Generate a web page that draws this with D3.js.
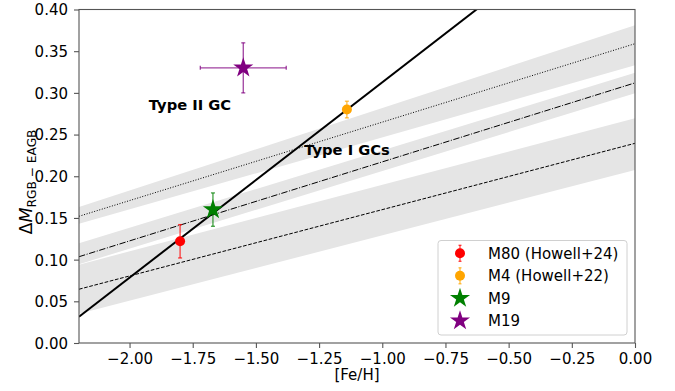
<!DOCTYPE html>
<html>
<head>
<meta charset="utf-8">
<script src="https://cdn.jsdelivr.net/npm/d3@7"></script>
<style>
  html, body { margin: 0; padding: 0; background: #fff; }
  svg { display: block; font-family: "DejaVu Sans", sans-serif; }
</style>
</head>
<body>
<svg id="chart" width="675" height="391"></svg>
<script>
// Metallicity range covered by the model relations
const fehEnds = [-2.2, 0.0];

// Model relations (value at each end of fehEnds) with their uncertainty bands
const dottedMid = [0.152, 0.359];
const dottedLo  = [0.143, 0.333];
const dottedHi  = [0.163, 0.381];

const dashDotMid = [0.1035, 0.312];
const dashDotLo  = [0.0945, 0.2995];
const dashDotHi  = [0.1195, 0.324];

const dashedMid = [0.0645, 0.2395];
const dashedLo  = [0.035, 0.2075];
const dashedHi  = [0.094, 0.2695];

// Steep solid relation
const solidY = [0.0315, 0.547];

// Cluster measurements
const clusterNames = ["M80 (Howell+24)", "M4 (Howell+22)", "M9", "M19"];
const clusterFeH   = [-1.80, -1.14, -1.67, -1.55];
const clusterDM    = [0.122, 0.280, 0.160, 0.330];
const clusterDMErr = [0.020, 0.010, 0.020, 0.030];
const clusterFeHErr = [0, 0, 0, 0.17];
const clusterColor = ["#ff0000", "#ffa500", "#008000", "#800080"];
const clusterShape = ["circle", "circle", "star", "star"];

const xTicks = [-2.0, -1.75, -1.5, -1.25, -1.0, -0.75, -0.5, -0.25, 0.0];
const yTicks = [0.0, 0.05, 0.10, 0.15, 0.20, 0.25, 0.30, 0.35, 0.40];

const margin = { left: 79, right: 40, top: 9.5, bottom: 48 };
const W = 675, H = 391;
const pw = W - margin.left - margin.right;
const ph = H - margin.top - margin.bottom;
const fs = 15;

const svg = d3.select("#chart");
const x = d3.scaleLinear().domain([-2.2, 0.0]).range([margin.left, margin.left + pw]);
const y = d3.scaleLinear().domain([0, 0.4]).range([margin.top + ph, margin.top]);

svg.append("defs").append("clipPath").attr("id", "plotclip")
  .append("rect").attr("x", margin.left).attr("y", margin.top).attr("width", pw).attr("height", ph);

const plot = svg.append("g").attr("clip-path", "url(#plotclip)");

const band = d3.area().x(d => x(d.x)).y0(d => y(d.lo)).y1(d => y(d.hi));
const line = d3.line().x(d => x(d.x)).y(d => y(d.y));

const bands = [
  [dashedLo, dashedHi],
  [dashDotLo, dashDotHi],
  [dottedLo, dottedHi]
];
bands.forEach(([lo, hi]) => {
  plot.append("path")
    .datum(fehEnds.map((f, i) => ({ x: f, lo: lo[i], hi: hi[i] })))
    .attr("d", band)
    .attr("fill", "#e5e5e5");
});

const relations = [
  { vals: dottedMid, dash: "1,1.65" },
  { vals: dashDotMid, dash: "6.4,1.6,1,1.6" },
  { vals: dashedMid, dash: "3.7,1.6" }
];
relations.forEach(r => {
  plot.append("path")
    .datum(fehEnds.map((f, i) => ({ x: f, y: r.vals[i] })))
    .attr("d", line)
    .attr("fill", "none")
    .attr("stroke", "#000")
    .attr("stroke-width", 1)
    .attr("stroke-dasharray", r.dash);
});

plot.append("path")
  .datum(fehEnds.map((f, i) => ({ x: f, y: solidY[i] })))
  .attr("d", line)
  .attr("fill", "none")
  .attr("stroke", "#000")
  .attr("stroke-width", 2);

// Region labels
svg.append("text").attr("x", 190).attr("y", 110).attr("text-anchor", "middle")
  .attr("font-size", 14.7).attr("font-weight", "bold").text("Type II GC");
svg.append("text").attr("x", 347).attr("y", 155.3).attr("text-anchor", "middle")
  .attr("font-size", 14.7).attr("font-weight", "bold").text("Type I GCs");

const starSym = d3.symbol().type(d3.symbolStar).size(125);

function drawMarker(g, cx, cy, shape, color) {
  if (shape === "circle") {
    g.append("circle").attr("cx", cx).attr("cy", cy).attr("r", 5).attr("fill", color);
  } else {
    g.append("path").attr("d", starSym()).attr("transform", `translate(${cx},${cy})`)
      .attr("fill", color);
  }
}

function errBar(g, x1, y1, x2, y2, color, cap, vertical) {
  g.append("line").attr("x1", x1).attr("y1", y1).attr("x2", x2).attr("y2", y2)
    .attr("stroke", color).attr("stroke-width", 1.3).attr("stroke-opacity", 0.75);
  [[x1, y1], [x2, y2]].forEach(([px, py]) => {
    if (vertical) {
      g.append("line").attr("x1", px - cap).attr("x2", px + cap).attr("y1", py).attr("y2", py)
        .attr("stroke", color).attr("stroke-width", 1.3).attr("stroke-opacity", 0.75);
    } else {
      g.append("line").attr("x1", px).attr("x2", px).attr("y1", py - cap).attr("y2", py + cap)
        .attr("stroke", color).attr("stroke-width", 1.3).attr("stroke-opacity", 0.75);
    }
  });
}

const pts = svg.append("g");
clusterNames.forEach((n, i) => {
  const cx = x(clusterFeH[i]), cy = y(clusterDM[i]);
  const col = clusterColor[i];
  errBar(pts, cx, y(clusterDM[i] - clusterDMErr[i]), cx, y(clusterDM[i] + clusterDMErr[i]), col, 2, true);
  if (clusterFeHErr[i] > 0) {
    errBar(pts, x(clusterFeH[i] - clusterFeHErr[i]), cy, x(clusterFeH[i] + clusterFeHErr[i]), cy, col, 2, false);
  }
  drawMarker(pts, cx, cy, clusterShape[i], col);
});

// Axes frame
const spine = "#555";
svg.append("rect").attr("x", margin.left).attr("y", margin.top).attr("width", pw).attr("height", ph)
  .attr("fill", "none").attr("stroke", spine).attr("stroke-width", 1.1);

const xAxis = svg.append("g").attr("transform", `translate(0,${margin.top + ph})`)
  .call(d3.axisBottom(x).tickValues(xTicks).tickSize(5).tickPadding(5.5)
    .tickFormat(d => (d < 0 ? "\u2212" : "") + Math.abs(d).toFixed(2)));
const yAxis = svg.append("g").attr("transform", `translate(${margin.left},0)`)
  .call(d3.axisLeft(y).tickValues(yTicks).tickSize(5).tickPadding(6)
    .tickFormat(d => d.toFixed(2)));
[xAxis, yAxis].forEach(a => {
  a.select(".domain").remove();
  a.selectAll(".tick line").attr("stroke", spine).attr("stroke-width", 1.1);
  a.selectAll(".tick text").attr("fill", "#000").attr("font-size", fs)
    .attr("font-family", "DejaVu Sans");
});
yAxis.selectAll(".tick text").attr("dy", "0.36em");

// Axis titles
svg.append("text").attr("x", x(-1.1)).attr("y", 380).attr("text-anchor", "middle")
  .attr("font-size", fs).text("[Fe/H]");

const yl = svg.append("text")
  .attr("transform", `translate(32,182) rotate(-90)`)
  .attr("text-anchor", "middle").attr("font-size", 17.5);
yl.append("tspan").text("\u0394");
yl.append("tspan").attr("font-style", "italic").text("M");
yl.append("tspan").attr("font-size", 12.2).attr("dy", 3.5).text("RGB \u2212 EAGB");

// Legend
const lg = svg.append("g");
lg.append("rect").attr("x", 438).attr("y", 240.5).attr("width", 189).attr("height", 94.5)
  .attr("rx", 3).attr("fill", "#fff").attr("fill-opacity", 0.8)
  .attr("stroke", "#d0d0d0").attr("stroke-width", 1);
clusterNames.forEach((n, i) => {
  const ly = 253.3 + i * 22.5;
  const lx = 460;
  if (clusterShape[i] === "circle") {
    errBar(lg, lx, ly - 8, lx, ly + 8, clusterColor[i], 1.5, true);
  }
  drawMarker(lg, lx, ly, clusterShape[i], clusterColor[i]);
  lg.append("text").attr("x", 488).attr("y", ly).attr("dy", "0.36em")
    .attr("font-size", fs).text(n);
});
</script>
</body>
</html>
